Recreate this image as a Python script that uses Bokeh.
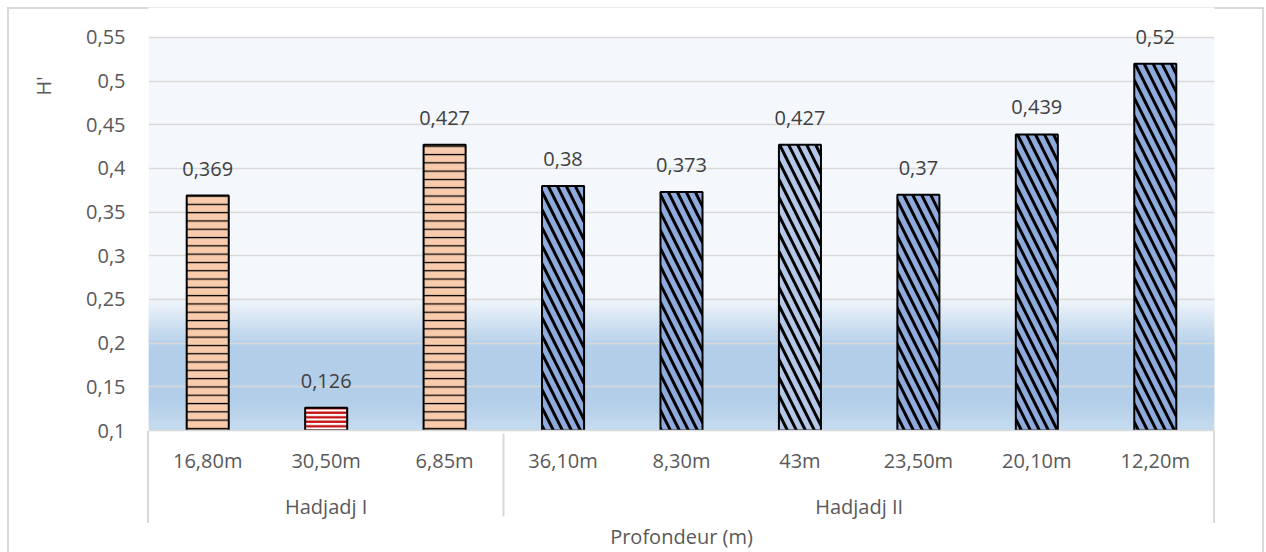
from bokeh.plotting import figure
from bokeh.models import (FactorRange, Range1d, ColumnDataSource, LabelSet, Title,
                          BoxAnnotation, FixedTicker, CustomJSTickFormatter)
from bokeh.core.properties import value
from bokeh.embed import file_html
from bokeh.resources import INLINE

# ---- data ----
depths = ["16,80m", "30,50m", "6,85m", "36,10m", "8,30m", "43m", "23,50m", "20,10m", "12,20m"]
sites = ["Hadjadj I"] * 3 + ["Hadjadj II"] * 6
h_values = [0.369, 0.126, 0.427, 0.38, 0.373, 0.427, 0.37, 0.439, 0.52]
y_ticks = [0.1, 0.15, 0.2, 0.25, 0.3, 0.35, 0.4, 0.45, 0.5, 0.55]
y_title = "H'"
x_title = "Profondeur (m)"

# ---- styles per bar ----
PEACH, RED, BLUE, LBLUE = "#F8CBAD", "#FFFFFF", "#8FAADC", "#B4C7E7"
fills, hatches, hcolors, hscales, hweights = [], [], [], [], []
for d, s in zip(depths, sites):
    if s == "Hadjadj I":
        if d == "30,50m":
            fills.append(RED); hatches.append("horizontal_line"); hcolors.append("#C00000")
            hscales.append(4.5); hweights.append(2.2)
        else:
            fills.append(PEACH); hatches.append("horizontal_line"); hcolors.append("#000000")
            hscales.append(8.3); hweights.append(1.3)
    else:
        fills.append(LBLUE if d == "43m" else BLUE)
        hatches.append("left_diagonal_line"); hcolors.append("#000000")
        hscales.append(18); hweights.append(3)

factors = list(zip(sites, depths))
labels = [str(v).replace(".", ",") for v in h_values]
src = ColumnDataSource(dict(x=factors, h=h_values, label=labels, fill=fills,
                            hatch=hatches, hcolor=hcolors, hscale=hscales, hweight=hweights))

# ---- layout ----
W, H = 1266, 552
FRAME_L, FRAME_R, PLOT_TOP, FRAME_B, FRAME_T = 148, 1214, 37, 431, 7
px_per_unit = (FRAME_B - PLOT_TOP) / (y_ticks[-1] - y_ticks[0])
y_end = y_ticks[-1] + (PLOT_TOP - FRAME_T) / px_per_unit   # room above for the top label

FONT = "Open Sans"
GREY = "#D9D9D9"
p = figure(width=W, height=H,
           x_range=FactorRange(*factors, group_padding=0, factor_padding=0, range_padding=0),
           y_range=Range1d(y_ticks[0], y_end),
           min_border_left=FRAME_L, min_border_right=W - FRAME_R,
           min_border_top=FRAME_T, min_border_bottom=H - FRAME_B,
           output_backend="svg", toolbar_location=None)
p.background_fill_color = "white"
p.outline_line_color = None
p.border_fill_color = None
# chart-area border and outer separators of the category axis
g = "linear-gradient(%s,%s)" % (GREY, GREY)
p.styles = {"background": ", ".join([
    g + " 7px 7px / 1256px 2px no-repeat",
    g + " 7px 7px / 2px 560px no-repeat",
    g + " 1262px 7px / 2px 560px no-repeat",
    g + " %dpx %dpx / 2px 92px no-repeat" % (FRAME_L - 1, FRAME_B),
    g + " %dpx %dpx / 2px 92px no-repeat" % (FRAME_R - 1, FRAME_B),
    "white"])}

# plot-area fill and gradient
p.add_layout(BoxAnnotation(bottom=0.25, top=y_ticks[-1], fill_color="#F4F8FC", fill_alpha=1,
                           line_color=None, level="image"))
stops = [(0.10, (198, 219, 239)), (0.135, (178, 206, 233)), (0.195, (178, 206, 233)),
         (0.25, (240, 245, 251)), (0.255, (244, 248, 252))]
def col_at(y):
    for (y0, c0), (y1, c1) in zip(stops[:-1], stops[1:]):
        if y0 <= y <= y1:
            t = (y - y0) / (y1 - y0)
            return "#%02x%02x%02x" % tuple(int(round(a + (b - a) * t)) for a, b in zip(c0, c1))
    return "#F4F8FC"
step = 0.0025
n = int(round((0.255 - 0.1) / step))
for i in range(n):
    b = 0.1 + i * step
    p.add_layout(BoxAnnotation(bottom=b, top=min(b + 2 * step, 0.256), fill_color=col_at(b + step / 2),
                               fill_alpha=1, line_color=None, level="image"))

# grid
p.xgrid.grid_line_color = None
p.ygrid.grid_line_color = GREY
p.ygrid.grid_line_width = 1.3
p.ygrid.ticker = FixedTicker(ticks=y_ticks)

# bars
p.vbar(x="x", top="h", bottom=y_ticks[0], width=0.355, source=src,
       fill_color="fill", line_color="black", line_width=2,
       hatch_pattern="hatch", hatch_color="hcolor", hatch_scale="hscale", hatch_weight="hweight")

p.add_layout(LabelSet(x="x", y="h", text="label", source=src, y_offset=27,
                      text_align="center", text_baseline="middle",
                      text_font=value(FONT), text_font_size=value("20px"), text_color="#404040"))

# y axis
ya = p.yaxis[0]
ya.ticker = FixedTicker(ticks=y_ticks)
ya.formatter = CustomJSTickFormatter(code="return tick.toFixed(2).replace(/0$/, '').replace('.', ',');")
ya.axis_line_color = None
ya.major_tick_line_color = None
ya.major_tick_out = 0
ya.major_tick_in = 0
ya.minor_tick_line_color = None
ya.minor_tick_out = 0
ya.major_label_standoff = 23
ya.major_label_text_font = FONT
ya.major_label_text_font_size = "20px"
ya.major_label_text_color = "#595959"

# y title placed near the top (as in the original)
title_y = FRAME_B - (0.5 - y_ticks[0]) * px_per_unit
p.add_layout(Title(text=y_title, align="right", vertical_align="middle",
                   offset=title_y - FRAME_T - 5, standoff=52,
                   text_font=FONT, text_font_size="20px", text_font_style="normal",
                   text_color="#595959"), "left")

# x axis (nested: depth / site)
xa = p.xaxis[0]
xa.axis_line_color = GREY
xa.axis_line_width = 1.5
xa.major_tick_line_color = None
xa.major_tick_out = 0
xa.major_tick_in = 0
xa.major_label_standoff = 16
xa.major_label_text_font = FONT
xa.major_label_text_font_size = "20px"
xa.major_label_text_color = "#595959"
xa.group_text_font = FONT
xa.group_text_font_size = "20px"
xa.group_text_font_style = "normal"
xa.group_text_color = "#595959"
xa.separator_line_color = GREY
xa.separator_line_width = 2
xa.axis_label = x_title
xa.axis_label_standoff = 0
xa.axis_label_text_font = FONT
xa.axis_label_text_font_size = "20px"
xa.axis_label_text_font_style = "normal"
xa.axis_label_text_color = "#595959"

open("out.html", "w").write(file_html(p, INLINE))
